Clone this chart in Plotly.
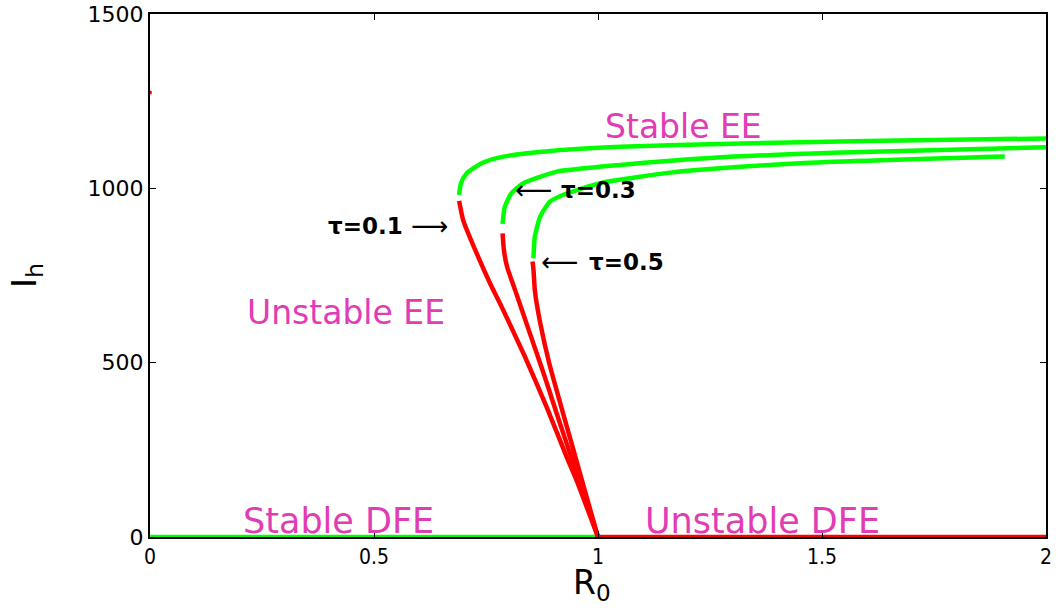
import plotly.graph_objects as go

# DFE branches
dfe_stable_x = [0.0, 1.0]
dfe_stable_y = [0, 0]
dfe_unstable_x = [1.0, 2.0]
dfe_unstable_y = [0, 0]

# tau = 0.1
t1_red_x = [1.0, 0.952, 0.930, 0.885, 0.837, 0.785, 0.76, 0.729, 0.699, 0.690]
t1_red_y = [0, 163, 230, 374, 517, 660, 725, 814, 909, 964]
t1_green_x = [0.690, 0.694, 0.707, 0.74, 0.789, 0.9, 1.05, 1.3, 1.6, 2.0]
t1_green_y = [981, 1014, 1043, 1072, 1091, 1108, 1119, 1128, 1136, 1143]

# tau = 0.3
t3_red_x = [1.0, 0.945, 0.915, 0.881, 0.848, 0.815, 0.797, 0.790, 0.787]
t3_red_y = [0, 211, 326, 460, 584, 708, 775, 823, 871]
t3_green_x = [0.787, 0.792, 0.807, 0.833, 0.871, 0.908, 1.049, 1.25, 1.525, 2.0]
t3_green_y = [898, 947, 986, 1014, 1033, 1048, 1067, 1087, 1102, 1118]

# tau = 0.5
t5_red_x = [1.0, 0.964, 0.939, 0.920, 0.891, 0.871, 0.859, 0.856, 0.854]
t5_red_y = [0, 163, 278, 364, 499, 614, 708, 766, 790]
t5_green_x = [0.856, 0.859, 0.871, 0.893, 0.92, 0.96, 1.012, 1.161, 1.228, 1.451, 1.908]
t5_green_y = [799, 861, 919, 962, 980, 998, 1017, 1045, 1053, 1072, 1091]

stray_x = [0.0]
stray_y = [1275]

x_ticks = [0, 0.5, 1, 1.5, 2]
x_tick_text = ["0", "0.5", "1", "1.5", "2"]
y_ticks = [0, 500, 1000, 1500]
y_tick_text = ["0", "500", "1000", "1500"]

GREEN = "#00ff00"
RED = "#ff0000"
MAGENTA = "#e23cb5"

fig = go.Figure()

def add_line(x, y, color, spline=True, smoothing=0.6):
    fig.add_trace(go.Scatter(
        x=x, y=y, mode="lines",
        line=dict(color=color, width=4.5, shape="spline" if spline else "linear", smoothing=smoothing),
        showlegend=False, hoverinfo="skip"))

add_line(dfe_stable_x, dfe_stable_y, GREEN, False)
add_line(dfe_unstable_x, dfe_unstable_y, RED, False)
add_line(t1_red_x, t1_red_y, RED, smoothing=0.5)
add_line(t1_green_x, t1_green_y, GREEN)
add_line(t3_red_x, t3_red_y, RED, smoothing=0.5)
add_line(t3_green_x, t3_green_y, GREEN)
add_line(t5_red_x, t5_red_y, RED, smoothing=0.5)
add_line(t5_green_x, t5_green_y, GREEN)

fig.add_trace(go.Scatter(x=stray_x, y=stray_y, mode="markers",
                         marker=dict(color=RED, size=4), cliponaxis=False,
                         showlegend=False, hoverinfo="skip"))

ee_font = dict(family="DejaVu Sans, sans-serif", size=33, color=MAGENTA)
dfe_font = dict(family="DejaVu Sans, sans-serif", size=35, color=MAGENTA)
tau_font = dict(family="DejaVu Sans, sans-serif", size=23, color="black")
arrow_font = dict(family="DejaVu Sans, sans-serif", size=26, color="black")

annots = [
    dict(x=1.19, y=1176, text="Stable EE", font=ee_font),
    dict(x=0.4375, y=645, text="Unstable EE", font=ee_font),
    dict(x=0.42, y=46, text="Stable DFE", font=dfe_font),
    dict(x=1.368, y=46, text="Unstable DFE", font=dfe_font),
    dict(x=0.482, y=892, text="<b>τ=0.1</b>", font=tau_font),
    dict(x=0.623, y=892, text="⟶", font=arrow_font),
    dict(x=0.857, y=995, text="⟵", font=arrow_font),
    dict(x=1.002, y=995, text="<b>τ=0.3</b>", font=tau_font),
    dict(x=0.915, y=789, text="⟵", font=arrow_font),
    dict(x=1.0625, y=789, text="<b>τ=0.5</b>", font=tau_font),
]
for a in annots:
    fig.add_annotation(x=a["x"], y=a["y"], text=a["text"], font=a["font"],
                       showarrow=False, xref="x", yref="y", xanchor="center", yanchor="middle")

# axis titles
fig.add_annotation(text="R<sub>0</sub>", showarrow=False,
                   font=dict(family="DejaVu Sans, sans-serif", size=33, color="black"),
                   x=0, y=0, xref="paper", yref="paper")
fig.add_annotation(text="I<sub>h</sub>", showarrow=False, textangle=-90,
                   font=dict(family="DejaVu Sans, sans-serif", size=34, color="black"),
                   x=0, y=0, xref="paper", yref="paper")

fig.update_layout(
    width=1058, height=616,
    margin=dict(l=150, r=12, t=14, b=79),
    plot_bgcolor="white", paper_bgcolor="white",
    font=dict(family="Liberation Sans, Arial, sans-serif", color="black"),
)
# place axis-title annotations by pixel position
W, H = 1058, 616
L, R, T, B = 150, 12, 14, 79
pw, ph = W - L - R, H - T - B
def px_to_paper(px, py):
    return (px - L) / pw, (H - B - py) / ph
ann = list(fig.layout.annotations)
rx, ry = px_to_paper(592, 584)
ann[-2].update(x=rx, y=ry, xanchor="center", yanchor="middle")
ix, iy = px_to_paper(26, 276)
ann[-1].update(x=ix, y=iy, xanchor="center", yanchor="middle")
fig.layout.annotations = ann

fig.update_xaxes(
    range=[0, 2], tickvals=x_ticks, ticktext=x_tick_text, automargin=False,
    showgrid=False, zeroline=False, showline=True, linecolor="black", linewidth=2,
    mirror="ticks", ticks="inside", ticklen=6, tickcolor="black", tickwidth=1,
    tickfont=dict(size=21, family="DejaVu Sans Condensed, Liberation Sans, sans-serif"),
)
fig.update_yaxes(
    range=[0, 1500], tickvals=y_ticks, ticktext=y_tick_text, automargin=False,
    showgrid=False, zeroline=False, showline=True, linecolor="black", linewidth=2,
    mirror="ticks", ticks="inside", ticklen=6, tickcolor="black", tickwidth=1,
    tickfont=dict(size=22, family="DejaVu Sans, sans-serif"),
)

fig.write_html("out.html")
